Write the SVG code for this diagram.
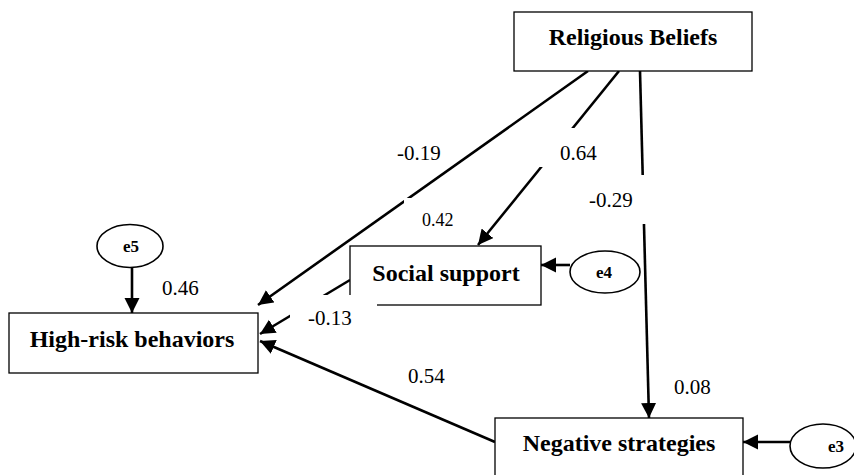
<svg xmlns="http://www.w3.org/2000/svg" width="854" height="475" viewBox="0 0 854 475">
<style>
.box{fill:#fff;stroke:#000;stroke-width:1.3}
.ell{fill:#fff;stroke:#000;stroke-width:1.6}
.lbl{font-family:"Liberation Serif","Times New Roman",serif;font-weight:bold;font-size:24px;text-anchor:middle;fill:#000}
.elbl{font-family:"Liberation Serif","Times New Roman",serif;font-weight:bold;font-size:17px;text-anchor:middle;fill:#000}
.num{font-family:"Liberation Serif","Times New Roman",serif;font-size:21px;fill:#000}
.conn{stroke:#000;stroke-width:2.6;fill:none;marker-end:url(#ah)}
.bg{fill:#fff;stroke:none}
</style>
<defs>
<marker id="ah" markerUnits="userSpaceOnUse" markerWidth="16" markerHeight="16" refX="15" refY="7.5" orient="auto">
<path d="M0,0 L15,7.5 L0,15 z" fill="#000"/>
</marker>
</defs>
<rect width="854" height="475" fill="#fff"/>
<g id="connectors">
<line class="conn" x1="588" y1="71" x2="258" y2="305"/>
<line class="conn" x1="619" y1="71" x2="478" y2="245"/>
<line class="conn" x1="640" y1="71" x2="649" y2="418"/>
<line class="conn" x1="350" y1="280" x2="260" y2="334"/>
<line class="conn" x1="495" y1="442" x2="260" y2="341"/>
<line class="conn" x1="132" y1="268" x2="132" y2="313"/>
<line class="conn" x1="570" y1="265" x2="541" y2="265"/>
<line class="conn" x1="790" y1="442" x2="743" y2="442"/>
</g>
<g id="religious-beliefs">
<rect class="box" x="514" y="12" width="238" height="59"/>
<text class="lbl" x="633" y="45">Religious Beliefs</text>
</g>
<g id="social-support">
<rect class="box" x="350" y="246" width="191" height="59"/>
<text class="lbl" x="446" y="281">Social support</text>
</g>
<g id="high-risk-behaviors">
<rect class="box" x="9" y="313" width="249" height="60"/>
<text class="lbl" x="132" y="347">High-risk behaviors</text>
</g>
<g id="negative-strategies">
<rect class="box" x="495" y="418" width="248" height="60"/>
<text class="lbl" x="619" y="451">Negative strategies</text>
</g>
<g id="e5">
<ellipse class="ell" cx="130" cy="246" rx="33" ry="21.5"/>
<text class="elbl" x="131" y="252">e5</text>
</g>
<g id="e4">
<ellipse class="ell" cx="605" cy="272" rx="35" ry="21"/>
<text class="elbl" x="604" y="278">e4</text>
</g>
<g id="e3">
<ellipse class="ell" cx="823" cy="446" rx="33" ry="22"/>
<text class="elbl" x="836" y="452">e3</text>
</g>
<g id="labels">
<rect class="bg" x="404" y="198" width="64" height="36"/>
<rect class="bg" x="538" y="128" width="70" height="39"/>
<rect class="bg" x="585" y="175" width="65" height="49"/>
<rect class="bg" x="290" y="295" width="87" height="38"/>
<text class="num" x="397" y="160">-0.19</text>
<text class="num" x="560" y="160">0.64</text>
<text class="num" x="589" y="207">-0.29</text>
<text class="num" x="422" y="226" style="font-size:18px">0.42</text>
<text class="num" x="162" y="295">0.46</text>
<text class="num" x="308" y="325">-0.13</text>
<text class="num" x="408" y="383">0.54</text>
<text class="num" x="674" y="394">0.08</text>
</g>
</svg>
